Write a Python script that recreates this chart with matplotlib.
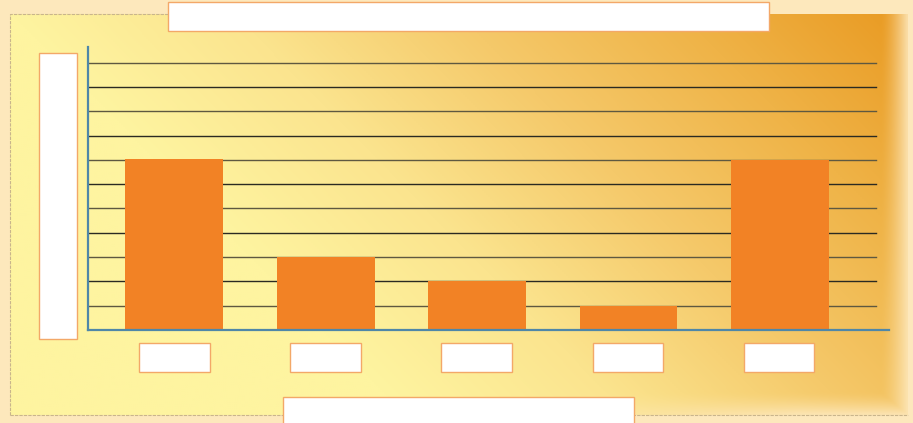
import numpy as np
import matplotlib
matplotlib.use("Agg")
from matplotlib import pyplot as plt
from matplotlib.colors import LinearSegmentedColormap, to_rgb
from matplotlib.patches import Rectangle

# chart data (labels are blank in the reference)
categories = [0, 1, 2, 3, 4]
values = [7.05, 3.0, 2.0, 0.97, 6.98]
grid_levels = [1, 2, 3, 4, 5, 6, 7, 8, 9, 10, 11]

W, H = 913, 423
fig = plt.figure(figsize=(W / 100, H / 100), dpi=100)
fig.patch.set_facecolor("#FDE8BC")

# background panel with diagonal gradient
bg = fig.add_axes([0, 0, 1, 1])
bg.set_xlim(0, W)
bg.set_ylim(H, 0)
bg.axis("off")

px0, py0, px1, py1 = 10, 14, 908, 415
xs = np.linspace(px0, px1, 450)
ys = np.linspace(py0, py1, 200)
xx, yy = np.meshgrid(xs, ys)
t = ((xx - px0) / (px1 - px0)) * 0.8 + (1 - (yy - py0) / (py1 - py0)) * 0.35
t = np.clip((t - 0.35) / 0.8, 0, 1)
cmap = LinearSegmentedColormap.from_list(
    "panel", ["#FEF4A0", "#FBE48E", "#F5C96A", "#EFB347", "#E99A22"])
rgb = cmap(t)[..., :3]

# soft fade of the right and bottom edges into the page colour
page = np.array(to_rgb("#FDE8BC"))
fade_r = np.clip((xx - (px1 - 26)) / 26, 0, 1) ** 1.5
fade_b = np.clip((yy - (py1 - 22)) / 22, 0, 1) ** 1.5 * np.clip(
    (xx - 500) / 300, 0, 1)
fade = np.maximum(fade_r, fade_b)[..., None] * 0.85
rgb = rgb * (1 - fade) + page * fade
bg.imshow(rgb, extent=(px0, px1, py1, py0), aspect="auto",
          interpolation="bilinear", zorder=0)
bg.plot([px0, px0, 168], [py1, py0, py0], color="#C9B58C", lw=0.8,
        ls=(0, (3, 1)), zorder=1)
bg.plot([px0, px1], [py1, py1], color="#C9B58C", lw=0.8,
        ls=(0, (3, 1)), zorder=1)

# white label boxes (title, y label, x tick labels, x label)
boxes = [(168, 2, 601, 29), (39, 53, 38, 286), (283, 397, 351, 30),
         (139, 343, 71, 29), (290, 343, 71, 29), (441, 343, 71, 29),
         (593, 343, 70, 29), (744, 343, 70, 29)]
for x, y, w, h in boxes:
    bg.add_patch(Rectangle((x, y), w, h, fc="white", ec="#F3A868",
                           lw=1.0, zorder=3))

# main plot axes
left, top, right, bottom = 88, 47, 889, 330
ax = fig.add_axes([left / W, (H - bottom) / H, (right - left) / W,
                   (bottom - top) / H])
ax.patch.set_alpha(0)
ax.set_xlim(-0.57, 4.72)
ax.set_ylim(0, (bottom - top) / 24.3)

grid_end = (876 - left) / (right - left)
for i, g in enumerate(grid_levels):
    ax.axhline(g, xmin=0, xmax=grid_end,
               color="#2a2a22" if i % 2 else "#5e5840", lw=1.0, zorder=1)

ax.bar(categories, values, width=0.645, color="#F28225", zorder=2)

for side in ["top", "right"]:
    ax.spines[side].set_visible(False)
for side in ["left", "bottom"]:
    ax.spines[side].set_color("#4F87A8")
    ax.spines[side].set_linewidth(1.6)
ax.set_xticks([])
ax.set_yticks([])

fig.savefig("out.png", dpi=100, facecolor=fig.get_facecolor())
